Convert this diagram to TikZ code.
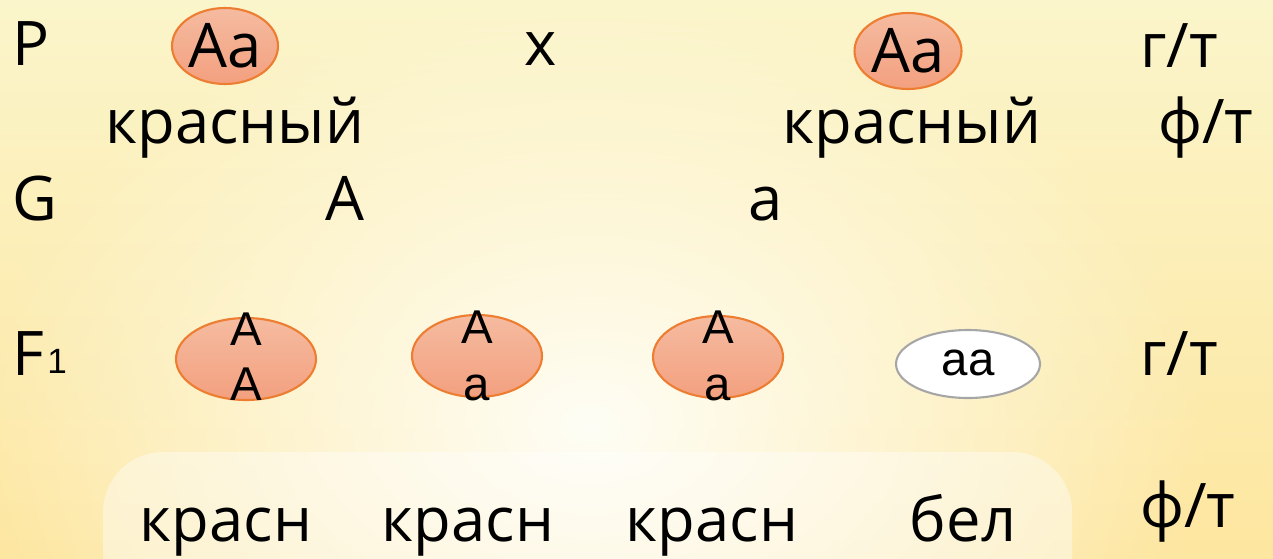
\documentclass[tikz,border=0pt]{standalone}
\usepackage{fontspec}
\setmainfont{Open Sans}
\newfontfamily\arialf{Liberation Sans}
\usetikzlibrary{shapes.geometric,fadings}
\definecolor{bgtop}{HTML}{FBF5CB}
\definecolor{bgbot}{HTML}{FDE69F}
\definecolor{ovtop}{HTML}{F5BBA0}
\definecolor{ovbot}{HTML}{F3A07F}
\definecolor{ovline}{HTML}{ED7D31}
\definecolor{wline}{HTML}{A6A6A6}
\definecolor{glow}{HTML}{FFFEF6}
\tikzfading[name=glowfade, inner color=transparent!0, outer color=transparent!100]
\begin{document}
\begin{tikzpicture}[x=0.02cm,y=-0.02cm,
  big/.style={font=\fontsize{35}{40}\selectfont, inner sep=0pt, text=black},
  gen/.style={font=\arialf\fontsize{27}{28}\selectfont, inner sep=0pt, text=black},
  redov/.style={ellipse, draw=ovline, line width=1.2pt, top color=ovtop, bottom color=ovbot, inner sep=0pt},
  whov/.style={ellipse, draw=wline, line width=1.2pt, fill=white, inner sep=0pt}]
\useasboundingbox (0,0) rectangle (1273,558);
\shade[top color=bgtop, bottom color=bgbot] (0,0) rectangle (1273,558);
\begin{scope}
\clip (0,0) rectangle (1273,558);
\fill[glow, path fading=glowfade] (590,425) ellipse (620 and 430);
\fill[white, opacity=0.4] (103,600) -- (103,512) arc[start angle=180, end angle=90, x radius=60, y radius=-60] -- (1012,452) arc[start angle=90, end angle=0, x radius=60, y radius=-60] -- (1072,600) -- cycle;
\end{scope}
% row P
\node[big, anchor=base west] (P) at (12,65) {P};
\node[redov, minimum width=2.12cm, minimum height=1.52cm] (p1) at (225,46) {};
\node[big] (p1t) at (p1.center) {Aa};
\node[big, anchor=base] (x) at (541,65) {x};
\node[redov, minimum width=2.14cm, minimum height=1.52cm] (p2) at (908,51) {};
\node[big] (p2t) at (p2.center) {Aa};
\node[big, anchor=base west] (gt1) at (1140,67) {г/т};
\node[big, anchor=base] (ph1) at (235,143) {красный};
\node[big, anchor=base] (ph2) at (912,143) {красный};
\node[big, anchor=base west] (ft1) at (1158,143) {ф/т};
% row G
\node[big, anchor=base west] (G) at (12,220) {G};
\node[big, anchor=base west] (gA) at (325,220) {A};
\node[big, anchor=base west] (ga) at (748,220) {a};
% row F1
\node[big, anchor=base west] (F) at (12,375) {F};
\node[font=\arialf\fontsize{20}{22}\selectfont, inner sep=0pt, anchor=base west] (F1) at (47,373) {1};
\node[redov, minimum width=2.8cm, minimum height=1.64cm] (f1) at (246,359) {};
\node[gen, anchor=base] (f1a) at (246,345) {A};
\node[gen, anchor=base] (f1b) at (246,400) {A};
\node[redov, minimum width=2.6cm, minimum height=1.64cm] (f2) at (477,356) {};
\node[gen, anchor=base] (f2a) at (477,343) {A};
\node[gen, anchor=base] (f2b) at (477,400) {a};
\node[redov, minimum width=2.6cm, minimum height=1.64cm] (f3) at (718,357) {};
\node[gen, anchor=base] (f3a) at (718,343) {A};
\node[gen, anchor=base] (f3b) at (718,400) {a};
\node[whov, minimum width=2.88cm, minimum height=1.36cm] (f4) at (968,364) {};
\node[gen, anchor=base] (f4t) at (968,375) {aa};
\node[big, anchor=base west] (gt2) at (1140,375) {г/т};
% bottom row
\node[big, anchor=base] (b1) at (226,541) {красн};
\node[big, anchor=base] (b2) at (468,541) {красн};
\node[big, anchor=base] (b3) at (712,541) {красн};
\node[big, anchor=base] (b4) at (963,541) {бел};
\node[big, anchor=base west] (ft2) at (1140,527) {ф/т};
\end{tikzpicture}
\end{document}
